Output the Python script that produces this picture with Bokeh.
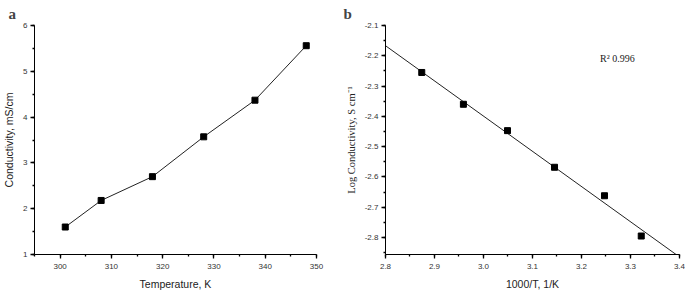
import numpy as np
from bokeh.plotting import figure
from bokeh.layouts import row
from bokeh.models import SingleIntervalTicker, PrintfTickFormatter, Label, Range1d
from bokeh.embed import file_html
from bokeh.resources import INLINE

# Panel a data
temp_K = [301, 308, 318, 328, 338, 348]
conductivity_mS = [1.60, 2.18, 2.70, 3.57, 4.37, 5.56]

# Panel b data
inv_T = [2.874, 2.959, 3.049, 3.145, 3.247, 3.322]
log_cond = [-2.255, -2.360, -2.447, -2.568, -2.662, -2.795]
r2_text = "R\u00b2 0.996"

SANS = "Liberation Sans"
SERIF = "Liberation Serif"


def style_axes(p, label_font_x, label_font_y):
    for ax in p.axis:
        ax.axis_line_color = "black"
        ax.axis_line_width = 1
        ax.major_tick_line_color = "black"
        ax.minor_tick_line_color = "black"
        ax.major_tick_line_width = 1.3
        ax.minor_tick_line_width = 1.3
        ax.major_tick_in = 0
        ax.major_tick_out = 4
        ax.minor_tick_in = 0
        ax.minor_tick_out = 2
        ax.major_label_text_font = SANS
        ax.major_label_text_font_size = "8px"
        ax.major_label_text_color = "#333333"
        ax.axis_label_text_font_style = "normal"
        ax.axis_label_text_color = "#222222"
        ax.axis_label_text_font_size = "10.5px"
    p.xaxis[0].axis_label_text_font = label_font_x
    p.yaxis[0].axis_label_text_font = label_font_y
    p.xaxis[0].major_label_standoff = 5
    p.yaxis[0].major_label_standoff = 3
    p.xaxis[0].axis_label_standoff = 6
    p.yaxis[0].axis_label_standoff = 5
    p.grid.visible = False
    p.outline_line_color = None
    p.title.text_font = SERIF
    p.title.text_font_style = "bold"
    p.title.text_font_size = "15px"
    p.title.align = "left"
    p.title.standoff = 7


# ---- Panel a ----
pa = figure(width=340, height=292, output_backend="svg", toolbar_location=None,
            x_range=Range1d(295, 350.001), y_range=Range1d(1, 6.001),
            min_border_left=27, min_border_right=24, min_border_top=24,
            min_border_bottom=35, title="a")
pa.line(temp_K, conductivity_mS, line_color="#222222", line_width=1)
pa.scatter(temp_K, conductivity_mS, marker="square", size=6,
           fill_color="black", line_color="black")
pa.xaxis.ticker = SingleIntervalTicker(interval=10, num_minor_ticks=2)
pa.yaxis.ticker = SingleIntervalTicker(interval=1, num_minor_ticks=2)
pa.xaxis.axis_label = "Temperature, K"
pa.yaxis.axis_label = "Conductivity, mS/cm"
style_axes(pa, SANS, SANS)
pa.title.offset = -26

# ---- Panel b ----
pb = figure(width=345, height=292, output_backend="svg", toolbar_location=None,
            x_range=Range1d(2.8, 3.4001), y_range=Range1d(-2.856, -2.0999),
            min_border_left=45, min_border_right=6, min_border_top=21,
            min_border_bottom=35, title="b")
slope, intercept = np.polyfit(inv_T, log_cond, 1)
fit_x = np.array([2.8, 3.4])
pb.line(fit_x, slope * fit_x + intercept, line_color="#222222", line_width=1)
pb.scatter(inv_T, log_cond, marker="square", size=6,
           fill_color="black", line_color="black")
pb.xaxis.ticker = SingleIntervalTicker(interval=0.1, num_minor_ticks=2)
pb.yaxis.ticker = SingleIntervalTicker(interval=0.1, num_minor_ticks=2)
pb.xaxis.formatter = PrintfTickFormatter(format="%.1f")
pb.yaxis.formatter = PrintfTickFormatter(format="%.1f")
pb.xaxis.axis_label = "1000/T, 1/K"
pb.yaxis.axis_label = "Log Conductivity, S cm\u207b\u00b9"
style_axes(pb, SANS, SERIF)
pb.title.offset = -42
pb.add_layout(Label(x=3.238, y=-2.21, text=r2_text, text_font=SERIF,
                    text_font_size="10px", text_color="#222222",
                    text_baseline="middle"))

layout = row(pa, pb)
open("out.html", "w").write(file_html(layout, INLINE))
